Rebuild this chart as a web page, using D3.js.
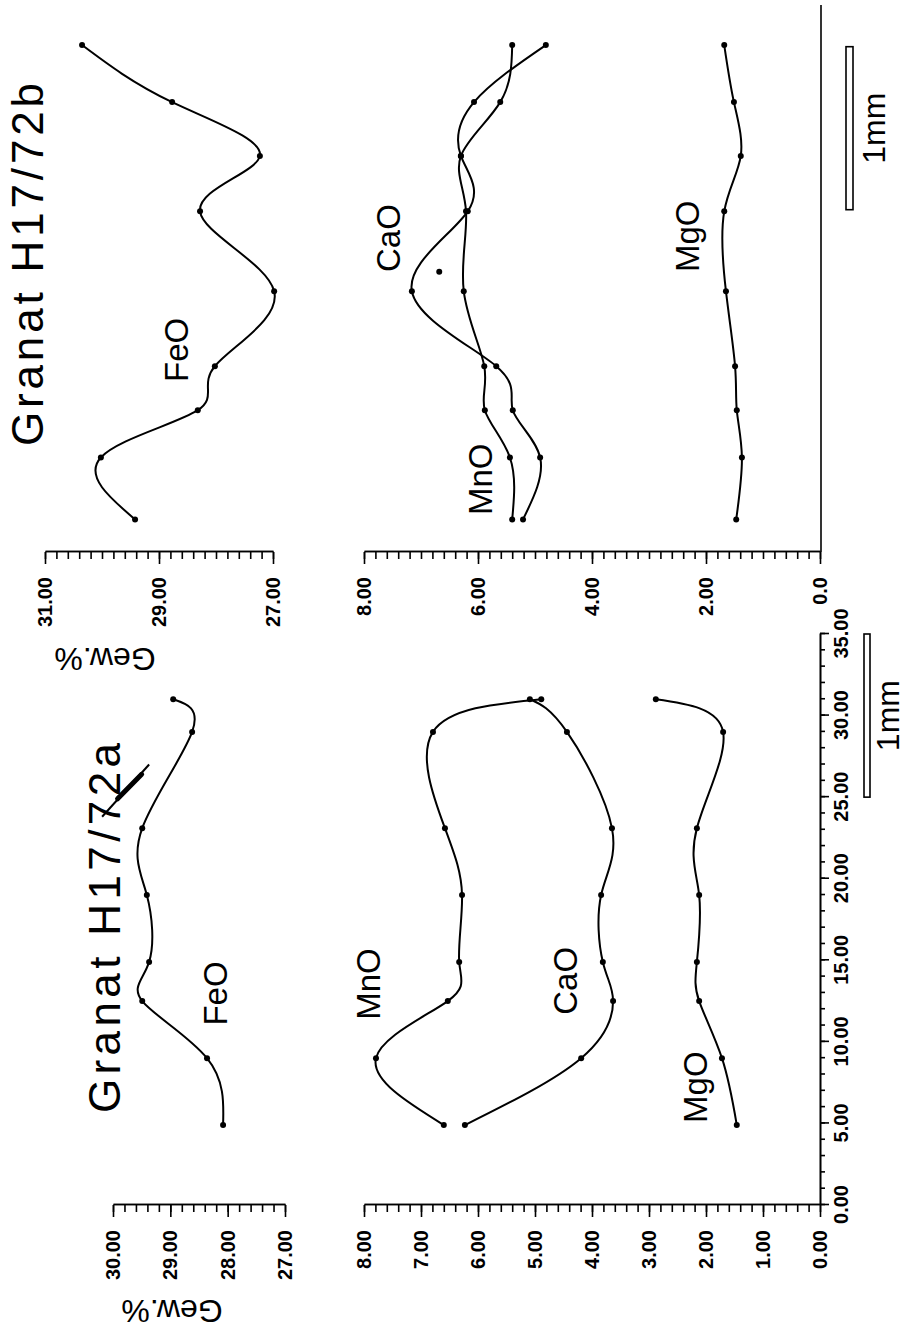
<!DOCTYPE html>
<html>
<head>
<meta charset="utf-8">
<script src="https://cdn.jsdelivr.net/npm/d3@7"></script>
<style>
  body { margin: 0; background: #fff; }
  svg { display: block; }
  text { font-family: "Liberation Sans", Arial, sans-serif; fill: #000; }
</style>
</head>
<body>
<svg id="chart" width="908" height="1329"></svg>
<script>
// Granat H17/72a  (distance in scale units, Gew.%)
const distA = [31.0, 29.0, 23.1, 19.0, 14.9, 12.5, 9.0, 4.9];
const feoA  = [28.95, 28.62, 29.49, 29.41, 29.37, 29.49, 28.36, 28.08];
const mnoA  = [4.89, 6.79, 6.58, 6.28, 6.33, 6.53, 7.79, 6.60];
const caoA  = [5.09, 4.44, 3.65, 3.84, 3.81, 3.63, 4.19, 6.23];
const mgoA  = [2.88, 1.70, 2.16, 2.12, 2.16, 2.12, 1.72, 1.46];

// Granat H17/72b
const distB = [31.1, 27.6, 24.3, 20.9, 16.0, 11.4, 8.7, 5.8, 2.0];
const feoB  = [30.35, 28.77, 27.23, 28.28, 26.98, 28.02, 28.32, 30.02, 29.42];
const mnoB  = [5.40, 5.61, 6.30, 6.21, 6.25, 5.89, 5.88, 5.44, 5.40];
const caoB  = [4.81, 6.07, 6.30, 6.18, 7.16, 5.68, 5.39, 4.91, 5.21];
const mgoB  = [1.68, 1.51, 1.39, 1.68, 1.65, 1.49, 1.46, 1.37, 1.47];
const strayB = [[17.2, 6.68]];   // single point without line

// tick labels
const distTicksA = [0, 5, 10, 15, 20, 25, 30, 35];
const feTicksA   = [27, 28, 29, 30];
const mainTicksA = [0, 1, 2, 3, 4, 5, 6, 7, 8];
const feTicksB   = [27, 29, 31];
const mainTicksB = [0, 2, 4, 6, 8];

// scale bars (1mm) in distance units
const barA = [25, 35];
const barB = [21, 31];

// the page is the original plot turned 90 degrees, drawn in its own frame
const W = 1329;
const svg = d3.select('#chart');
const g = svg.append('g').attr('transform', `translate(0,${W}) rotate(-90)`);

var xA = d3.scaleLinear().domain([0, 35]).range([124, 695]);
var xB = d3.scaleLinear().domain([0, 35]).range([777, 777 + 35 * 16.3]);
var yMain = d3.scaleLinear().domain([0, 8]).range([820, 364]);
var yFeA = d3.scaleLinear().domain([27, 30]).range([285, 113]);
var yFeB = d3.scaleLinear().domain([27, 31]).range([273, 45]);

const fmt2 = d3.format('.2f');

function styleAxis(sel) {
    sel.attr('font-size', 20)
        .attr('font-family', '"Liberation Sans", Arial, sans-serif')
        .attr('font-weight', 'bold');
    sel.selectAll('path, line').attr('stroke', '#000').attr('stroke-width', 1.6);
    sel.selectAll('text').attr('fill', '#000');
}

function valueAxis(xPos, scale, majors, step, labeler) {
    const d0 = scale.domain()[0], d1 = scale.domain()[1];
    const minors = d3.range(0, Math.round((d1 - d0) / step) + 1).map(i => d0 + i * step);
    g.append('g')
        .attr('transform', `translate(${xPos},0)`)
        .call(d3.axisLeft(scale).tickValues(minors).tickSize(7).tickSizeOuter(0).tickFormat(''))
        .call(styleAxis);
    g.append('g')
        .attr('transform', `translate(${xPos},0)`)
        .call(d3.axisLeft(scale).tickValues(majors).tickSize(12).tickPadding(13).tickSizeOuter(0).tickFormat(labeler))
        .call(styleAxis);
}

// --- axes, panel a
g.append('g')
    .attr('transform', `translate(0,${yMain(0)})`)
    .call(d3.axisBottom(xA).tickValues(d3.range(0, 36)).tickSize(5).tickSizeOuter(0).tickFormat(''))
    .call(styleAxis);
g.append('g')
    .attr('transform', `translate(0,${yMain(0)})`)
    .call(d3.axisBottom(xA).tickValues(distTicksA).tickSize(9).tickPadding(5).tickSizeOuter(0).tickFormat(fmt2))
    .call(styleAxis);
valueAxis(xA(0), yMain, mainTicksA, 0.2, fmt2);
valueAxis(xA(0), yFeA, feTicksA, 0.2, fmt2);

// --- axes, panel b
g.append('line')
    .attr('x1', xB(0)).attr('x2', 1324)
    .attr('y1', yMain(0) + 1).attr('y2', yMain(0) + 1)
    .attr('stroke', '#000').attr('stroke-width', 1.6);
valueAxis(xB(0), yMain, mainTicksB, 0.2, d => d === 0 ? '0.0' : fmt2(d));
valueAxis(xB(0), yFeB, feTicksB, 0.2, fmt2);

// --- curves
function drawSeries(dist, vals, xS, yS) {
    const pts = dist.map((d, i) => ({ d: d, v: vals[i] }));
    const line = d3.line().x(p => xS(p.d)).y(p => yS(p.v)).curve(d3.curveNatural);
    g.append('path')
        .datum(pts)
        .attr('d', line)
        .attr('fill', 'none')
        .attr('stroke', '#000')
        .attr('stroke-width', 2);
    g.append('g')
        .selectAll('circle')
        .data(pts)
        .enter()
        .append('circle')
        .attr('cx', p => xS(p.d))
        .attr('cy', p => yS(p.v))
        .attr('r', 3)
        .attr('fill', '#000');
}

drawSeries(distA, feoA, xA, yFeA);
drawSeries(distA, mnoA, xA, yMain);
drawSeries(distA, caoA, xA, yMain);
drawSeries(distA, mgoA, xA, yMain);

drawSeries(distB, feoB, xB, yFeB);
drawSeries(distB, mnoB, xB, yMain);
drawSeries(distB, caoB, xB, yMain);
drawSeries(distB, mgoB, xB, yMain);

g.selectAll('circle.stray')
    .data(strayB)
    .enter()
    .append('circle')
    .attr('class', 'stray')
    .attr('cx', d => xB(d[0]))
    .attr('cy', d => yMain(d[1]))
    .attr('r', 3)
    .attr('fill', '#000');

// --- oxide labels
const labelsA = [
    { t: 'FeO', d: 11.0, v: 28.01, y: yFeA },
    { t: 'MnO', d: 11.35, v: 7.72, y: yMain },
    { t: 'CaO', d: 11.66, v: 4.26, y: yMain },
    { t: 'MgO', d: 5.03, v: 1.98, y: yMain }
];
const labelsB = [
    { t: 'FeO', d: 10.43, v: 28.49, y: yFeB },
    { t: 'CaO', d: 17.18, v: 7.37, y: yMain },
    { t: 'MnO', d: 2.27, v: 5.75, y: yMain },
    { t: 'MgO', d: 17.18, v: 2.12, y: yMain }
];
labelsA.forEach(l => {
    g.append('text').attr('x', xA(l.d)).attr('y', l.y(l.v))
        .attr('font-size', 33).text(l.t);
});
labelsB.forEach(l => {
    g.append('text').attr('x', xB(l.d)).attr('y', l.y(l.v))
        .attr('font-size', 33).text(l.t);
});

// --- titles
g.append('text').attr('x', 216).attr('y', 120)
    .attr('font-size', 44).attr('textLength', 370).attr('lengthAdjust', 'spacing')
    .text('Granat H17/72a');
g.append('text').attr('x', 883).attr('y', 43)
    .attr('font-size', 44).attr('textLength', 363).attr('lengthAdjust', 'spacing')
    .text('Granat H17/72b');

// pen stroke across "72a"
const penMark = [[23.8, 30.19], [27.0, 29.37]];
g.append('line')
    .attr('x1', xA(penMark[0][0])).attr('y1', yFeA(penMark[0][1]))
    .attr('x2', xA(penMark[1][0])).attr('y2', yFeA(penMark[1][1]))
    .attr('stroke', '#000').attr('stroke-width', 2);
g.append('line')
    .attr('x1', xA(24.9)).attr('y1', yFeA(29.92))
    .attr('x2', xA(26.4)).attr('y2', yFeA(29.5))
    .attr('stroke', '#000').attr('stroke-width', 5).attr('stroke-linecap', 'round');

// --- axis titles "Gew.%"
g.append('text')
    .attr('transform', `translate(29,172) rotate(-90)`)
    .attr('text-anchor', 'middle').attr('font-size', 32)
    .text('Gew.%');
g.append('text')
    .attr('transform', `translate(681,105) rotate(-90)`)
    .attr('text-anchor', 'middle').attr('font-size', 32)
    .text('Gew.%');

// --- scale bars
function scaleBar(xS, bar, yTop, h, labelY) {
    g.append('rect')
        .attr('x', xS(bar[0])).attr('width', xS(bar[1]) - xS(bar[0]))
        .attr('y', yTop).attr('height', h)
        .attr('fill', '#fff').attr('stroke', '#000').attr('stroke-width', 1.6);
    g.append('text')
        .attr('x', xS((bar[0] + bar[1]) / 2)).attr('y', labelY)
        .attr('text-anchor', 'middle').attr('font-size', 32)
        .text('1mm');
}
scaleBar(xA, barA, 864, 6, 899);
scaleBar(xB, barB, 846, 7, 885);
</script>
</body>
</html>
